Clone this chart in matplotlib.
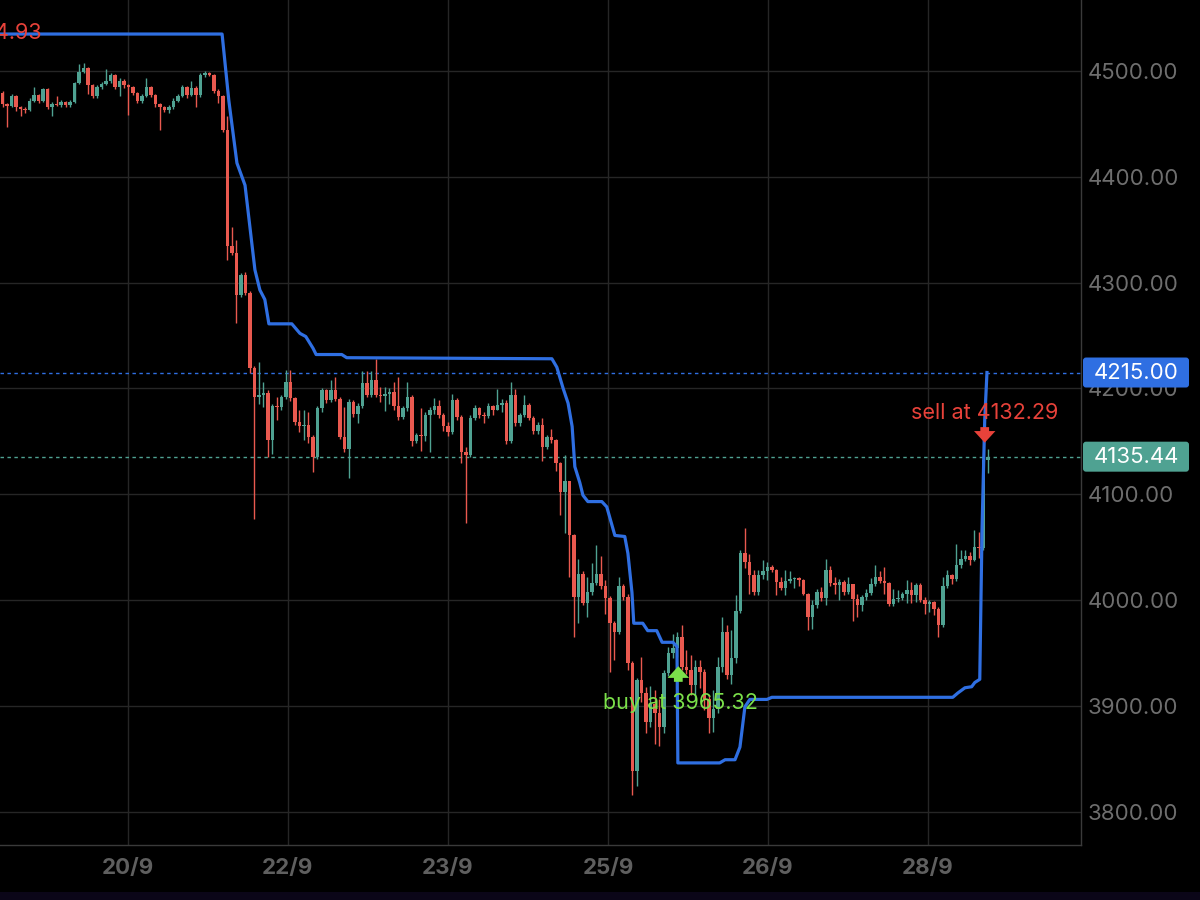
import numpy as np
import matplotlib
matplotlib.use('Agg')
import matplotlib.pyplot as plt
from matplotlib.patches import FancyBboxPatch, Rectangle

# ---- candle data (1 candle per slot, open = previous close) ----
first_open = 4479
closes = [
    4469, 4467, 4476, 4466, 4464, 4463, 4472, 4477, 4472, 4483,
    4466, 4469, 4468, 4471, 4468, 4471, 4489, 4499, 4503, 4487,
    4476, 4485, 4488, 4491, 4496, 4485, 4491, 4487, 4485, 4479,
    4472, 4476, 4485, 4477, 4469, 4466, 4463, 4466, 4472, 4476,
    4485, 4477, 4484, 4477, 4496, 4498, 4496, 4481, 4476, 4444,
    4335, 4328, 4288, 4307, 4290, 4219, 4192, 4194, 4196, 4151,
    4183, 4182, 4192, 4206, 4191, 4168, 4164, 4165, 4154, 4135,
    4181, 4198, 4189, 4198, 4190, 4154, 4143, 4187, 4176, 4183,
    4205, 4194, 4208, 4194, 4193, 4195, 4197, 4183, 4173, 4181,
    4192, 4150, 4156, 4155, 4175,
    4180, 4183, 4175, 4164, 4159, 4189, 4173, 4140, 4137, 4172,
    4181, 4175, 4174, 4183, 4180, 4184, 4186, 4150, 4194, 4167,
    4175, 4184, 4172, 4160, 4165, 4145, 4154, 4151, 4129, 4102,
    4112, 4061, 4003, 4025, 3997, 4008, 4016, 4025, 4013, 4002,
    3978, 3970, 4013, 4003, 3940,
    3838, 3924, 3912, 3885, 3902, 3893, 3880, 3931, 3950, 3955,
    3965, 3937, 3934, 3920, 3937, 3932, 3906, 3888, 3897, 3937,
    3970, 3929, 3945, 3990, 4044, 4036, 4024, 4008, 4024, 4027,
    4031, 4028, 4017, 4011, 4018, 4020, 4021, 4019, 4006, 3984,
    3995, 4008, 4002, 4028, 4016, 4014, 4017, 4008,
    4015, 4001, 3995, 4003, 4007, 4015, 4022, 4018, 4016, 3996,
    4001, 4002, 4006, 4009, 4005, 4014, 4000, 3996, 3998, 3991,
    3976, 4013, 4024, 4020, 4033, 4039, 4042, 4038, 4050, 4049,
    4132, 4135.44,
]
highs = [
    4481, 4470, 4478, 4477, 4467, 4466, 4474, 4485, 4478, 4484,
    4484, 4471, 4476, 4473, 4472, 4473, 4490, 4507, 4508, 4504,
    4488, 4487, 4490, 4502, 4498, 4497, 4493, 4492, 4488, 4486,
    4480, 4478, 4493, 4486, 4478, 4470, 4467, 4468, 4474, 4478,
    4487, 4486, 4491, 4486, 4498, 4500, 4499, 4497, 4483, 4477,
    4457, 4353, 4340, 4309, 4310, 4292, 4221, 4225, 4206, 4198,
    4185, 4192, 4194, 4217, 4217, 4192, 4180, 4180, 4178, 4156,
    4183, 4200, 4199, 4208, 4211, 4192, 4182, 4190, 4189, 4186,
    4216, 4216, 4216, 4228, 4201, 4201, 4200, 4206, 4211, 4183,
    4206, 4194, 4158, 4181, 4178,
    4182, 4191, 4189, 4177, 4168, 4195, 4191, 4175, 4145, 4175,
    4184, 4182, 4178, 4186, 4184, 4199, 4190, 4189, 4206, 4199,
    4177, 4194, 4186, 4174, 4168, 4172, 4156, 4162, 4152, 4130,
    4137, 4112, 4062, 4039, 4027, 4022, 4035, 4052, 4042, 4019,
    4004, 3980, 4022, 4015, 4006,
    3942, 3926, 3946, 3918, 3919, 3915, 3906, 3934, 3956, 3968,
    3970, 3976, 3953, 3948, 3943, 3943, 3935, 3909, 3915, 3946,
    3984, 3976, 3972, 4005, 4047, 4068, 4043, 4028, 4028, 4038,
    4036, 4033, 4029, 4022, 4028, 4027, 4022, 4022, 4020, 4007,
    4000, 4010, 4012, 4039, 4032, 4022, 4020, 4019,
    4022, 4015, 4006, 4005, 4010, 4021, 4033, 4027, 4031, 4017,
    4010, 4009, 4008, 4019, 4017, 4016, 4016, 4003, 4000, 3999,
    3993, 4022, 4028, 4025, 4053, 4047, 4047, 4045, 4066, 4064,
    4135, 4143,
]
lows = [
    4466, 4447, 4466, 4462, 4457, 4460, 4462, 4471, 4470, 4471,
    4464, 4457, 4467, 4466, 4466, 4466, 4470, 4488, 4498, 4478,
    4474, 4474, 4483, 4487, 4489, 4483, 4476, 4484, 4458, 4477,
    4470, 4470, 4475, 4475, 4466, 4444, 4461, 4460, 4464, 4471,
    4475, 4474, 4476, 4466, 4475, 4494, 4495, 4479, 4470, 4442,
    4321, 4326, 4262, 4286, 4288, 4215, 4077, 4185, 4182, 4135,
    4138, 4170, 4180, 4190, 4188, 4165, 4159, 4151, 4148, 4121,
    4133, 4178, 4186, 4187, 4188, 4152, 4140, 4115, 4173, 4167,
    4181, 4192, 4192, 4192, 4187, 4179, 4185, 4180, 4170, 4171,
    4179, 4146, 4148, 4141, 4150,
    4140, 4176, 4172, 4160, 4155, 4157, 4170, 4129, 4073, 4135,
    4170, 4172, 4167, 4172, 4175, 4180, 4178, 4147, 4148, 4164,
    4164, 4173, 4170, 4157, 4157, 4131, 4143, 4148, 4122, 4080,
    4063, 4022, 3965, 3978, 3995, 3984, 4005, 4014, 4010, 3987,
    3932, 3943, 3968, 4000, 3934,
    3816, 3824, 3904, 3874, 3880, 3864, 3862, 3874, 3928, 3945,
    3946, 3934, 3930, 3910, 3905, 3917, 3896, 3874, 3875, 3893,
    3932, 3925, 3921, 3940, 3988, 4030, 4006, 4005, 4005, 4020,
    4019, 4026, 4005, 4009, 4005, 4016, 4011, 4013, 4005, 3972,
    3973, 3992, 3999, 3995, 4013, 4006, 4000, 4005,
    4006, 3980, 3984, 3990, 4000, 4005, 4013, 4016, 4006, 3994,
    3994, 3998, 4000, 3997, 3997, 3998, 3998, 3987, 3989, 3986,
    3965, 3974, 4011, 4015, 4018, 4030, 4037, 4033, 4037, 4040,
    4047, 4120,
]

# trailing stop line vertices (candle slot, price)
stop_idx = [-1, 48.8, 50.3, 52.1, 53.9, 55.0, 56.1, 57.2, 58.3, 59.2,
            64.3, 66.1, 67.4, 69.0, 69.7, 75.4, 76.5, 122.1, 123.2, 124.6,
            125.7, 126.6, 127.2, 128.3, 129.0, 130.1, 133.2, 134.3, 136.1, 138.3,
            139.0, 139.9, 140.3, 142.3, 143.4, 145.4, 146.6, 149.0, 149.9, 150.1,
            159.4, 160.6, 162.8, 163.9, 165.0, 166.1, 169.9, 171.0, 211.2, 212.3,
            213.9, 215.4, 216.1, 217.2, 217.7, 218.3, 218.8]
stop_val = [4534.93, 4534.93, 4472, 4413, 4392, 4352, 4312, 4293, 4284, 4261,
            4261, 4252, 4249, 4238, 4232, 4232, 4229, 4228, 4220, 4200,
            4186, 4164, 4126, 4111, 4099, 4093, 4093, 4088, 4061, 4060,
            4044, 4007, 3978, 3978, 3971, 3971, 3960, 3960, 3956, 3846,
            3846, 3849, 3849, 3861, 3899, 3906, 3906, 3908, 3908, 3912,
            3917, 3918, 3922, 3925, 4066, 4170, 4215]

date_ticks = [27.9, 63.4, 99.0, 134.6, 170.1, 205.7]
date_labels = ['20/9', '22/9', '23/9', '25/9', '26/9', '28/9']
price_ticks = [3800, 3900, 4000, 4100, 4200, 4300, 4400, 4500]

stop_last = 4215.00
last_price = 4135.44
buy_price, buy_idx = 3965.32, 150.2
sell_price, sell_idx = 4132.29, 218.3
prev_sell_price = 4534.93

GREEN = '#4fa292'
RED = '#e9594f'
BLUE = '#2f6fe2'
BUY = '#7be04a'
SELL = '#e8423a'
BG = '#000000'
FONT = 'Inter'

closes = np.array(closes, dtype=float)
opens = np.r_[first_open, closes[:-1]]
highs = np.maximum(np.array(highs, dtype=float), np.maximum(opens, closes))
lows = np.minimum(np.array(lows, dtype=float), np.minimum(opens, closes))
x = np.arange(len(closes))
colors = np.where(closes >= opens, GREEN, RED)

fig = plt.figure(figsize=(12, 9), dpi=100, facecolor=BG)
ax = fig.add_axes([0, 55 / 900, 1081 / 1200, 845 / 900])
ax.set_facecolor(BG)

# candles
ax.vlines(x, lows, highs, colors=colors, linewidth=1.0, zorder=3)
body_lo = np.minimum(opens, closes)
body_h = np.maximum(np.abs(closes - opens), 1.0)
ax.bar(x, body_h, bottom=body_lo, width=0.74, color=colors, linewidth=0, zorder=4)

# trailing stop
ax.plot(stop_idx, stop_val, color=BLUE, lw=2.3, zorder=5, solid_joinstyle='round')

# price lines
ax.axhline(stop_last, color=BLUE, lw=1.0, ls=(0, (2.5, 2.5)), zorder=2)
ax.axhline(last_price, color=GREEN, lw=1.0, ls=(0, (2.5, 2.5)), zorder=2)

# signals
ax.annotate('', xy=(buy_idx, 3940), xytext=(buy_idx, 3920),
            arrowprops=dict(arrowstyle='simple,head_length=0.6,head_width=1.1,tail_width=0.45',
                            color=BUY, lw=0, mutation_scale=14), zorder=6)
ax.text(buy_idx + 0.4, 3903, f'buy at {buy_price:.2f}', color=BUY, ha='center', va='center',
        fontsize=15.5, family=FONT, zorder=6)
ax.annotate('', xy=(sell_idx, 4146), xytext=(sell_idx, 4166),
            arrowprops=dict(arrowstyle='simple,head_length=0.6,head_width=1.1,tail_width=0.45',
                            color=SELL, lw=0, mutation_scale=14), zorder=6)
ax.text(sell_idx, 4177, f'sell at {sell_price:.2f}', color=SELL, ha='center', va='center',
        fontsize=15.5, family=FONT, zorder=6)
ax.text(8.6, 4536, f'sell at {prev_sell_price:.2f}', color=SELL, ha='right', va='center',
        fontsize=15.5, family=FONT, zorder=6, clip_on=True)

ax.set_xlim(-0.56, 239.7)
ax.set_ylim(3768.4, 4567.1)

ax.set_xticks(date_ticks)
ax.set_xticklabels(date_labels, family=FONT, fontweight='bold')
ax.set_yticks(price_ticks)
ax.set_yticklabels([f'{p:.2f}' for p in price_ticks], family=FONT)
ax.yaxis.tick_right()
ax.tick_params(axis='y', length=0, pad=5, labelcolor='#6e6e6e', labelsize=16)
ax.tick_params(axis='x', length=0, pad=9, labelcolor='#5f5f5f', labelsize=16)
ax.grid(color='#262626', lw=1.0, zorder=0)
ax.set_axisbelow(True)
for s in ['top', 'left']:
    ax.spines[s].set_visible(False)
for s in ['right', 'bottom']:
    ax.spines[s].set_color('#3a3a3a')
    ax.spines[s].set_linewidth(1.0)

# value tags on the price scale
for price, col in [(stop_last, BLUE), (last_price, GREEN)]:
    ypx = ax.transData.transform((0, price))[1]
    tag = FancyBboxPatch((1083, ypx - 15), 106, 30, boxstyle='round,pad=0,rounding_size=3',
                         transform=None, facecolor=col, edgecolor='none', zorder=10)
    fig.patches.append(tag)
    fig.text(1136 / 1200, ypx / 900, f'{price:.2f}', color='white', ha='center', va='center',
             fontsize=16, family=FONT, zorder=11)

fig.patches.append(Rectangle((0, 0), 1, 8 / 900, transform=fig.transFigure,
                             facecolor='#0b0618', edgecolor='none'))

fig.savefig('out.png', dpi=100, facecolor=BG)
